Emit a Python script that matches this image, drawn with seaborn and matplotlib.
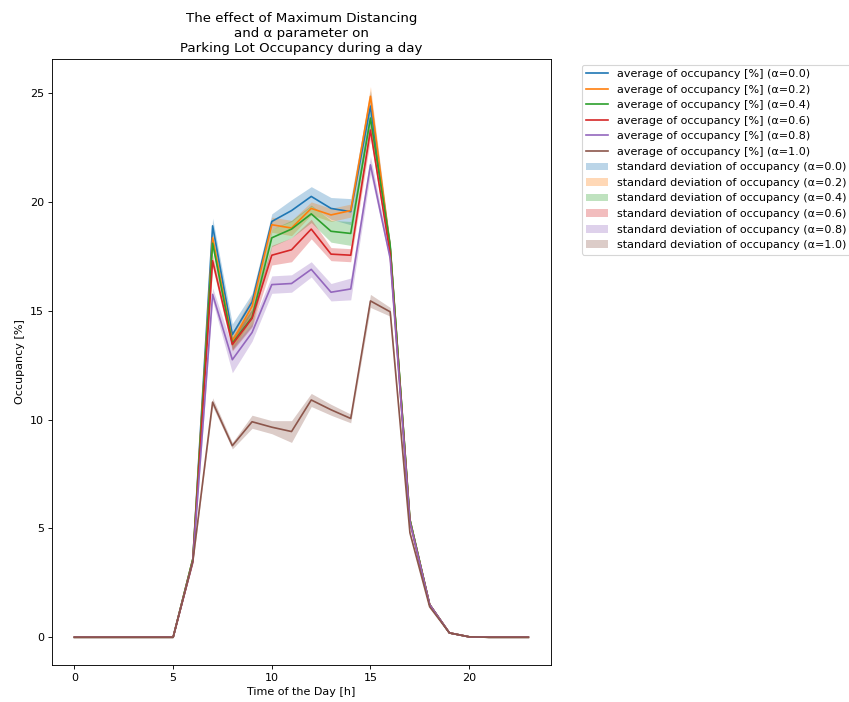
import matplotlib
matplotlib.use("Agg")
import matplotlib.pyplot as plt
import seaborn as sns
import numpy as np

hours = list(range(24))
alphas = ["0.0", "0.2", "0.4", "0.6", "0.8", "1.0"]

# mean occupancy [%] per hour for each alpha
mean_a00 = [0, 0, 0, 0, 0, 0, 3.6, 18.9, 13.9, 15.4, 19.1, 19.6, 20.25, 19.7, 19.55, 24.4, 17.9, 5.4, 1.5, 0.2, 0.02, 0, 0, 0]
mean_a02 = [0, 0, 0, 0, 0, 0, 3.6, 18.35, 13.6, 15.2, 18.95, 18.8, 19.7, 19.4, 19.6, 24.85, 17.9, 5.4, 1.5, 0.2, 0.02, 0, 0, 0]
mean_a04 = [0, 0, 0, 0, 0, 0, 3.6, 18.1, 13.5, 14.7, 18.35, 18.75, 19.45, 18.65, 18.55, 23.85, 18.0, 5.4, 1.5, 0.2, 0.02, 0, 0, 0]
mean_a06 = [0, 0, 0, 0, 0, 0, 3.5, 17.3, 13.45, 14.65, 17.55, 17.8, 18.75, 17.6, 17.55, 23.3, 17.6, 5.3, 1.5, 0.2, 0.02, 0, 0, 0]
mean_a08 = [0, 0, 0, 0, 0, 0, 3.5, 15.75, 12.75, 14.0, 16.2, 16.25, 16.9, 15.85, 16.0, 21.7, 17.4, 5.3, 1.5, 0.2, 0.02, 0, 0, 0]
mean_a10 = [0, 0, 0, 0, 0, 0, 3.5, 10.8, 8.8, 9.9, 9.65, 9.45, 10.9, 10.45, 10.05, 15.45, 14.95, 4.8, 1.4, 0.2, 0.02, 0, 0, 0]

# standard deviation of occupancy per hour for each alpha
std_a00 = [0, 0, 0, 0, 0, 0, 0.1, 0.35, 0.5, 0.4, 0.35, 0.5, 0.45, 0.5, 0.6, 0.7, 0.2, 0.1, 0.05, 0.02, 0, 0, 0, 0]
std_a02 = [0, 0, 0, 0, 0, 0, 0.1, 0.3, 0.4, 0.5, 0.35, 0.35, 0.3, 0.3, 0.3, 0.45, 0.2, 0.1, 0.05, 0.02, 0, 0, 0, 0]
std_a04 = [0, 0, 0, 0, 0, 0, 0.1, 0.3, 0.3, 0.4, 0.4, 0.4, 0.4, 0.5, 0.55, 0.5, 0.2, 0.1, 0.05, 0.02, 0, 0, 0, 0]
std_a06 = [0, 0, 0, 0, 0, 0, 0.1, 0.3, 0.3, 0.4, 0.45, 0.55, 0.45, 0.3, 0.3, 0.4, 0.2, 0.1, 0.05, 0.02, 0, 0, 0, 0]
std_a08 = [0, 0, 0, 0, 0, 0, 0.1, 0.3, 0.6, 0.4, 0.4, 0.4, 0.35, 0.4, 0.5, 0.4, 0.2, 0.1, 0.05, 0.02, 0, 0, 0, 0]
std_a10 = [0, 0, 0, 0, 0, 0, 0.1, 0.2, 0.15, 0.3, 0.3, 0.5, 0.3, 0.25, 0.2, 0.3, 0.2, 0.1, 0.05, 0.02, 0, 0, 0, 0]

means = [mean_a00, mean_a02, mean_a04, mean_a06, mean_a08, mean_a10]
stds = [std_a00, std_a02, std_a04, std_a06, std_a08, std_a10]
colors = sns.color_palette("tab10", 6)

DPI = 80
fig = plt.figure(figsize=(849 / DPI, 702 / DPI), dpi=DPI)
ax = fig.add_axes([0.061, 0.053, 0.588, 0.863])

line_handles, line_labels = [], []
for a, m, c in zip(alphas, means, colors):
    sns.lineplot(x=hours, y=m, color=c, ax=ax, legend=False)
    line_handles.append(ax.lines[-1])
    line_labels.append(f"average of occupancy [%] (\u03b1={a})")

band_handles, band_labels = [], []
for a, m, s, c in zip(alphas, means, stds, colors):
    m = np.asarray(m)
    s = np.asarray(s)
    h = ax.fill_between(hours, m - s, m + s, color=c, alpha=0.3, linewidth=0)
    band_handles.append(h)
    band_labels.append(f"standard deviation of occupancy (\u03b1={a})")

ax.set_title("The effect of Maximum Distancing\nand \u03b1 parameter on\nParking Lot Occupancy during a day")
ax.set_xlabel("Time of the Day [h]")
ax.set_ylabel("Occupancy [%]")
ax.set_xticks([0, 5, 10, 15, 20])
ax.set_yticks([0, 5, 10, 15, 20, 25])

ax.legend(line_handles + band_handles, line_labels + band_labels,
          bbox_to_anchor=(1.05, 1), loc="upper left")

fig.savefig("out.png", dpi=DPI)
